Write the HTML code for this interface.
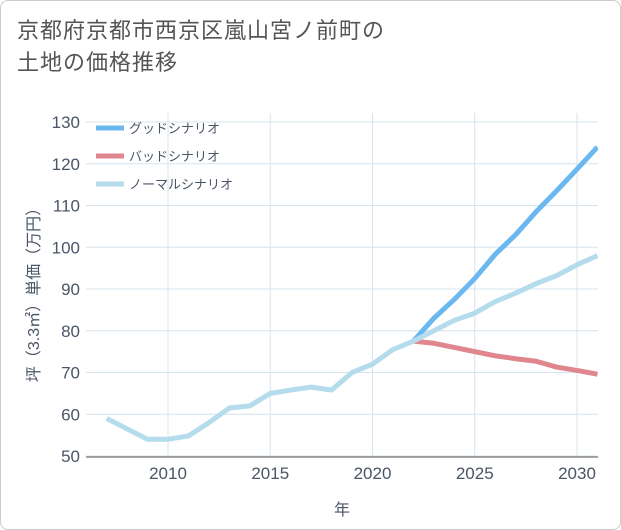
<!DOCTYPE html>
<html><head><meta charset="utf-8"><style>
body{margin:0;background:#fff;font-family:"Liberation Sans","Noto Sans CJK JP",sans-serif}
#wrap{position:relative;width:619px;height:528px;border:1px solid #ccc;border-radius:8px;overflow:hidden;background:#fff}
#title{position:absolute;left:16px;top:14px;font-size:22px;line-height:32px;color:#555;letter-spacing:1px}
</style></head><body>
<div id="wrap">
<div id="title">京都府京都市西京区嵐山宮ノ前町の<br>土地の価格推移</div>
<svg id="chart" width="621" height="530" style="position:absolute;left:0;top:0"></svg>
</div>
<script>
const years=[2007,2008,2009,2010,2011,2012,2013,2014,2015,2016,2017,2018,2019,2020,2021,2022,2023,2024,2025,2026,2027,2028,2029,2030,2031];
const normalValues=[59,56.5,54,54,54.8,58,61.5,62,65,65.8,66.5,65.8,70,72,75.5,77.5,80,82.5,84.2,87,89,91.3,93.2,95.8,98];
const futureYears=[2022,2023,2024,2025,2026,2027,2028,2029,2030,2031];
const goodValues=[77.5,83,87.5,92.5,98.3,103,108.5,113.5,118.7,124];
const badValues=[77.5,77,76,75,74,73.3,72.7,71.3,70.5,69.6];
const yTicks=[50,60,70,80,90,100,110,120,130];
const xTicks=[2010,2015,2020,2025,2030];
const legendLabels=["グッドシナリオ","バッドシナリオ","ノーマルシナリオ"];
const NS="http://www.w3.org/2000/svg";
const svg=document.getElementById('chart');
const TXT='#4a5568';
const L=85,R=597,T=112,B=456;
const x=v=>167+(v-2010)*(576-167)/20;
const y=v=>455-(v-50)*(455-121)/80;
function mk(t,a){const e=document.createElementNS(NS,t);for(const k in a)e.setAttribute(k,a[k]);svg.appendChild(e);return e;}
yTicks.forEach(t=>{
 const g=mk('line',{x1:L,x2:R,y1:y(t),y2:y(t),stroke:'#d6e4ee','stroke-width':1});
 
 
 const tx=mk('text',{x:L-6,y:y(t)+6,'text-anchor':'end','font-size':17,fill:TXT});tx.textContent=t;
 
 
});
xTicks.forEach(t=>{
 const g=mk('line',{x1:x(t),x2:x(t),y1:T,y2:B,stroke:'#d6e4ee','stroke-width':1});
 
 
 const tx=mk('text',{x:x(t),y:478,'text-anchor':'middle','font-size':17,fill:TXT});tx.textContent=t;
 
 
});
const ax=mk('line',{x1:L,x2:R,y1:B,y2:B,stroke:'#555','stroke-width':1});


const xt=mk('text',{x:341,y:514,'text-anchor':'middle','font-size':16,fill:TXT});xt.textContent='年';


const yt=mk('text',{x:0,y:0,'text-anchor':'middle','font-size':16,fill:TXT,transform:'translate(38,290) rotate(-90)'});yt.textContent='坪（3.3㎡）単価（万円）';


const clip=mk('clipPath',{id:'cp'});
const cr=document.createElementNS(NS,'rect');cr.setAttribute('x',L);cr.setAttribute('y',T);cr.setAttribute('width',R-L);cr.setAttribute('height',B-T);clip.appendChild(cr);
function line(xs,vs,c,name){
 const p=mk('polyline',{points:xs.map((v,i)=>x(v)+','+y(vs[i])).join(' '),fill:'none',stroke:c,'stroke-width':5,'stroke-linejoin':'round','clip-path':'url(#cp)'});
 
 
}
line(futureYears,badValues,'#e0868f','bad-scenario-line');
line(futureYears,goodValues,'#6bb8f0','good-scenario-line');
line(years,normalValues,'#b5dcec','normal-scenario-line');
const cols=['#6bb8f0','#e0868f','#b5dcec'];
legendLabels.forEach((lb,i)=>{
 const ly=127+i*28;
 const l=mk('line',{x1:95,x2:123,y1:ly,y2:ly,stroke:cols[i],'stroke-width':5});
 
 
 const t=mk('text',{x:128,y:ly+5,'font-size':13,fill:TXT});t.textContent=lb;
 
 
});
</script>
</body></html>
